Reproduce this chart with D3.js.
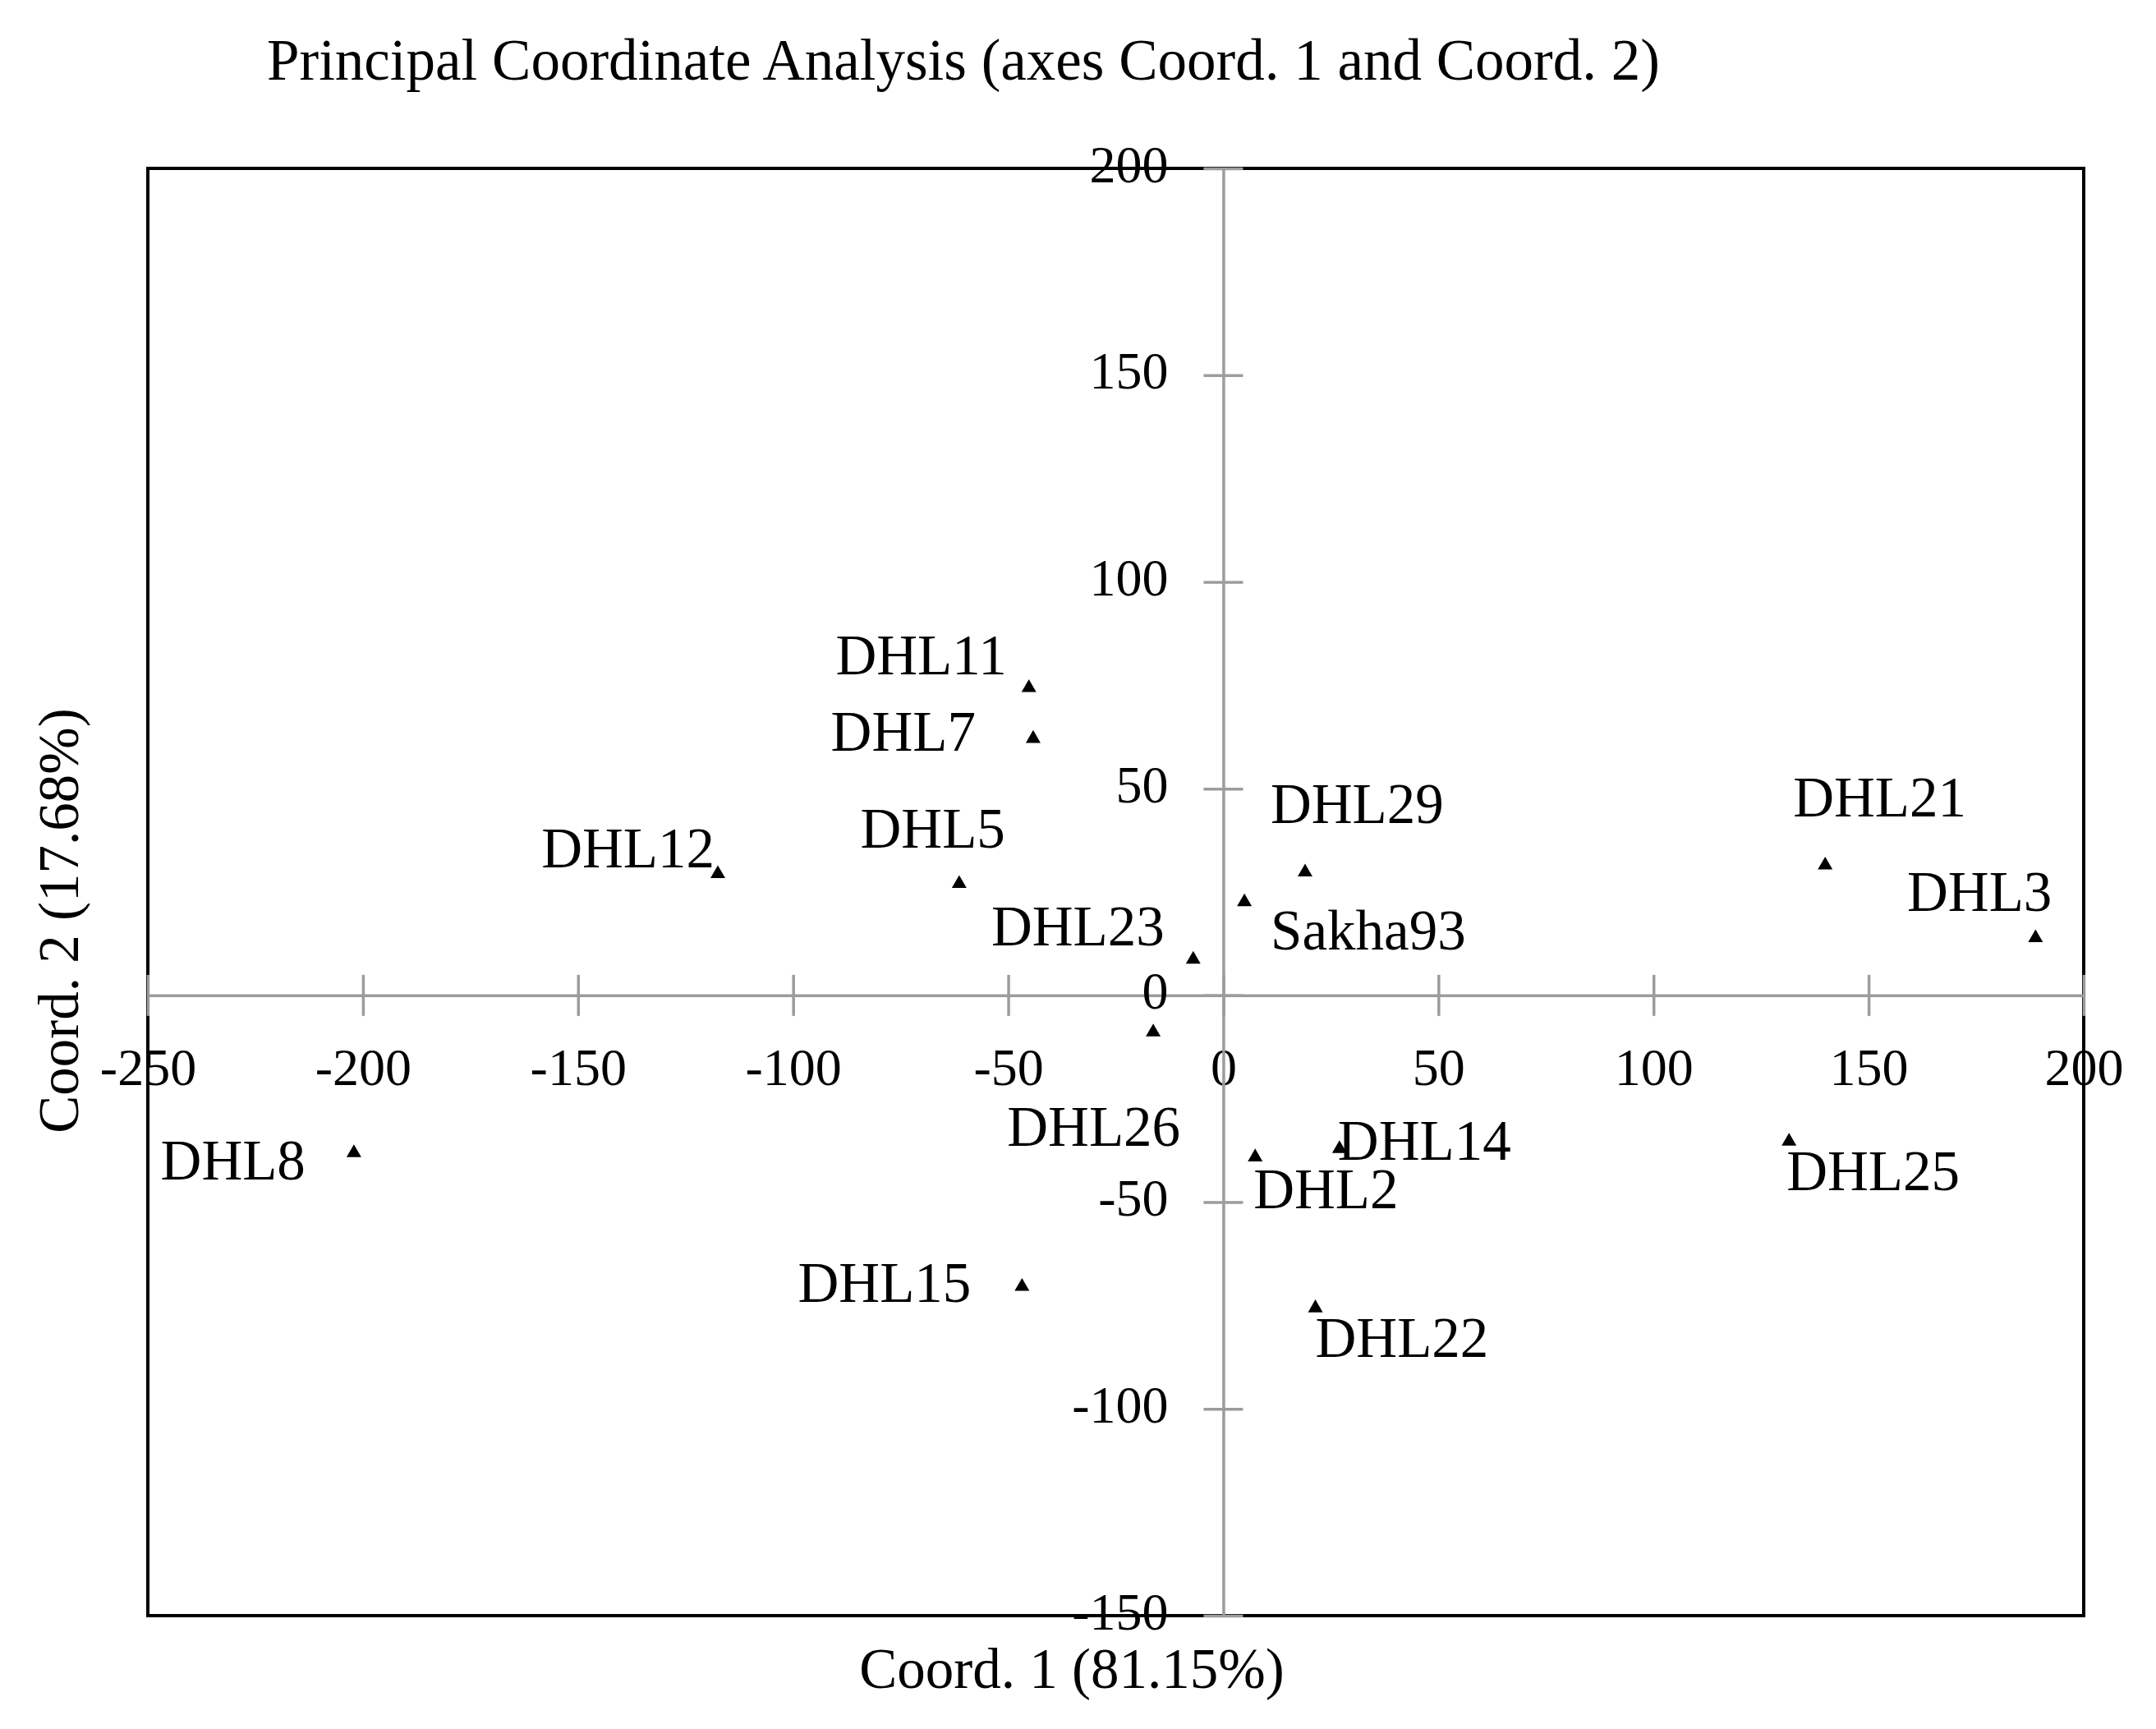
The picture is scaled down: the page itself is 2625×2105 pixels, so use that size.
<!DOCTYPE html>
<html lang="en">
  <head>
    <meta charset="UTF-8" />
    <title>Principal Coordinate Analysis</title>
    <style>
      body {
        margin: 0;
        background: #fff;
      }
      svg text {
        font-family: "Liberation Serif", "DejaVu Serif", serif;
        fill: #000;
      }
    </style>
  </head>
  <body>
    <div id="chart"></div>
    <script src="https://cdnjs.cloudflare.com/ajax/libs/d3/7.8.5/d3.min.js"></script>
    <script>
      // genotypes and their coordinates on the two PCoA axes
      var names = [
        "DHL11", "DHL7", "DHL12", "DHL5", "DHL23", "DHL29", "Sakha93", "DHL21",
        "DHL3", "DHL26", "DHL8", "DHL2", "DHL14", "DHL25", "DHL15", "DHL22",
      ];
      var coord1 = [
        -45.2, -44.2, -117.5, -61.4, -7.0, 19.0, 4.9, 139.9,
        188.8, -16.3, -202.1, 7.4, 27.0, 131.5, -46.8, 21.4,
      ];
      var coord2 = [
        74.4, 62.1, 29.4, 27.0, 8.7, 29.8, 22.6, 31.5,
        13.9, -8.9, -38.1, -39.1, -37.1, -35.3, -70.4, -75.6,
      ];
      var xTicks = [-250, -200, -150, -100, -50, 0, 50, 100, 150, 200];
      var yTicks = [-150, -100, -50, 0, 50, 100, 150, 200];

      var title = "Principal Coordinate Analysis (axes Coord. 1 and Coord. 2)";
      var xTitle = "Coord. 1 (81.15%)";
      var yTitle = "Coord. 2 (17.68%)";

      // where each label sits next to its marker (anchor, dx, dy in px)
      var labelPos = {
        DHL11: ["end", -27, -16],
        DHL7: ["end", -70, 15],
        DHL12: ["end", -4, -8],
        DHL5: ["end", 56, -44],
        DHL23: ["end", -35, -17],
        DHL29: ["start", -42, -60],
        Sakha93: ["start", 32, 58],
        DHL21: ["start", -39, -59],
        DHL3: ["end", 20, -33],
        DHL26: ["end", 33, 138],
        DHL8: ["end", -59, 32],
        DHL2: ["start", -2, 62],
        DHL14: ["start", -2, 13],
        DHL25: ["start", -3, 59],
        DHL15: ["end", -62, 19],
        DHL22: ["start", 0, 60],
      };

      var W = 2625,
        H = 2105;
      var plot = { left: 180, right: 2537, top: 205, bottom: 1967 };
      var gray = "#9c9c9c";

      var svg = d3
        .select("#chart")
        .append("svg")
        .attr("width", W)
        .attr("height", H);

      var x = d3.scaleLinear().domain([-250, 200]).range([plot.left, plot.right]);
      var y = d3.scaleLinear().domain([-150, 200]).range([plot.bottom, plot.top]);

      // plain hyphen for negatives, like the original
      var fmt = function (d) {
        return String(d);
      };

      //title
      svg
        .append("text")
        .attr("x", 325)
        .attr("y", 97)
        .style("font-size", "71px")
        .text(title);

      //frame
      svg
        .append("rect")
        .attr("x", plot.left)
        .attr("y", plot.top)
        .attr("width", plot.right - plot.left)
        .attr("height", plot.bottom - plot.top)
        .attr("fill", "none")
        .attr("stroke", "#000")
        .attr("stroke-width", 4);

      //axes crossing at the origin
      var xAxis = svg
        .append("g")
        .attr("transform", "translate(0," + y(0) + ")")
        .call(
          d3
            .axisBottom(x)
            .tickValues(xTicks)
            .tickFormat(fmt)
            .tickSizeInner(25)
            .tickSizeOuter(0)
        );

      xAxis.selectAll(".tick line").attr("y1", -25);
      xAxis
        .selectAll(".tick text")
        .attr("y", 109)
        .attr("dy", null)
        .style("font-size", "64px");

      var yAxis = svg
        .append("g")
        .attr("transform", "translate(" + x(0) + ",0)")
        .call(
          d3
            .axisLeft(y)
            .tickValues(yTicks)
            .tickFormat(fmt)
            .tickSizeInner(24)
            .tickSizeOuter(0)
        );

      yAxis.selectAll(".tick line").attr("x1", 24);
      yAxis
        .selectAll(".tick text")
        .attr("x", -67)
        .attr("y", 16)
        .attr("dy", null)
        .style("font-size", "64px");

      svg
        .selectAll(".domain, .tick line")
        .attr("stroke", gray)
        .attr("stroke-width", 3.5);
      svg.selectAll(".tick text").attr("fill", "#000");

      //axis titles
      svg
        .append("text")
        .attr("x", 1305)
        .attr("y", 2055)
        .attr("text-anchor", "middle")
        .style("font-size", "69px")
        .text(xTitle);

      svg
        .append("text")
        .attr("transform", "translate(95,1121) rotate(-90)")
        .attr("text-anchor", "middle")
        .style("font-size", "69px")
        .text(yTitle);

      //points
      var points = names.map(function (n, i) {
        return { name: n, c1: coord1[i], c2: coord2[i] };
      });

      var tri = d3.symbol().type(d3.symbolTriangle).size(140);

      svg
        .append("g")
        .selectAll("path")
        .data(points)
        .enter()
        .append("path")
        .attr("d", tri)
        .attr("fill", "#000")
        .attr("transform", function (d) {
          return "translate(" + x(d.c1) + "," + y(d.c2) + ")";
        });

      svg
        .append("g")
        .selectAll("text")
        .data(points)
        .enter()
        .append("text")
        .attr("x", function (d) {
          return x(d.c1) + labelPos[d.name][1];
        })
        .attr("y", function (d) {
          return y(d.c2) + labelPos[d.name][2];
        })
        .attr("text-anchor", function (d) {
          return labelPos[d.name][0];
        })
        .style("font-size", "69px")
        .text(function (d) {
          return d.name;
        });
    </script>
  </body>
</html>
